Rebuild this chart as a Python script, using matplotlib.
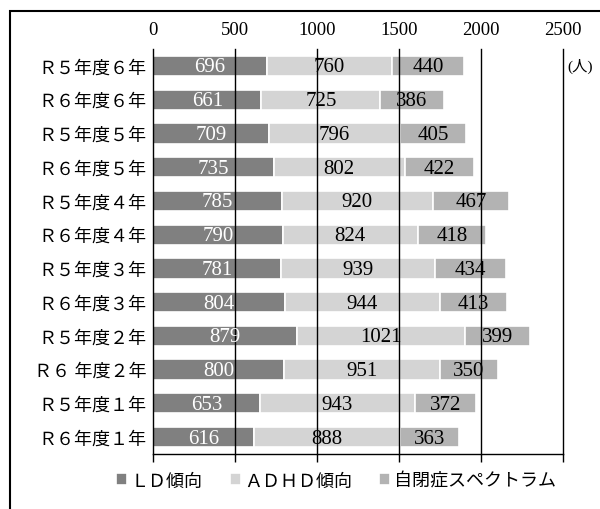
import numpy as np
import matplotlib.pyplot as plt
from matplotlib.patches import Rectangle

plt.rcParams['font.family'] = ['Liberation Serif', 'Noto Sans CJK JP']

# 学年別の人数
categories = ['Ｒ５年度６年', 'Ｒ６年度６年', 'Ｒ５年度５年', 'Ｒ６年度５年',
              'Ｒ５年度４年', 'Ｒ６年度４年', 'Ｒ５年度３年', 'Ｒ６年度３年',
              'Ｒ５年度２年', 'Ｒ６ 年度２年', 'Ｒ５年度１年', 'Ｒ６年度１年']
ld = [696, 661, 709, 735, 785, 790, 781, 804, 879, 800, 653, 616]
adhd = [760, 725, 796, 802, 920, 824, 939, 944, 1021, 951, 943, 888]
asd = [440, 386, 405, 422, 467, 418, 434, 413, 399, 350, 372, 363]
series_names = ['ＬＤ傾向', 'ＡＤＨＤ傾向', '自閉症スペクトラム']
colors = ['#808080', '#d4d4d4', '#b3b3b3']
label_colors = ['white', 'black', 'black']
xticks = [0, 500, 1000, 1500, 2000, 2500]

fig = plt.figure(figsize=(6, 5.1), dpi=100)
ax = fig.add_axes([153/600, 1 - 455/510, 410/600, 405/510])

y = np.arange(len(categories))
left = np.zeros(len(categories))
for vals, name, c, lc in zip([ld, adhd, asd], series_names, colors, label_colors):
    vals = np.array(vals)
    ax.barh(y, vals, left=left, height=0.6, color=c,
            edgecolor='white', linewidth=1.2, label=name, zorder=2)
    for yi, l, v in zip(y, left, vals):
        ax.text(l + v / 2, yi + 0.03, str(v), ha='center', va='center',
                fontsize=15, color=lc, zorder=4)
    left = left + vals

ax.set_xlim(0, 2500)
ax.set_ylim(len(categories) - 0.5, -0.5)
ax.set_yticks(y)
ax.set_yticklabels(categories, fontsize=13)
ax.tick_params(axis='y', length=0, pad=5)

# 目盛ラベルは上、目盛線は下の軸に
ax.set_xticks(xticks)
ax.tick_params(axis='x', which='both', top=False, labeltop=True,
               bottom=True, labelbottom=False, direction='out',
               length=6, width=1, labelsize=13.5, pad=2)
for xv in xticks[1:]:
    ax.axvline(xv, color='black', linewidth=1, zorder=3, clip_on=False)
for side in ['top', 'right']:
    ax.spines[side].set_visible(False)
ax.spines['left'].set_linewidth(1)
ax.spines['bottom'].set_linewidth(1)

fig.text(567/600, 1 - 66/510, '(人)', fontsize=11, va='center', ha='left')

fig.legend(loc='center', bbox_to_anchor=(336/600, 1 - 482/510), ncol=3,
           frameon=False, fontsize=13, handlelength=0.6, handleheight=0.6,
           handletextpad=0.2, columnspacing=1.5)

# 外枠
fig.add_artist(Rectangle((10/600, -0.2), 1.2, 1.2 - 12/510,
                         transform=fig.transFigure, fill=False,
                         edgecolor='black', linewidth=1.5))

fig.savefig('out.png', dpi=100)
